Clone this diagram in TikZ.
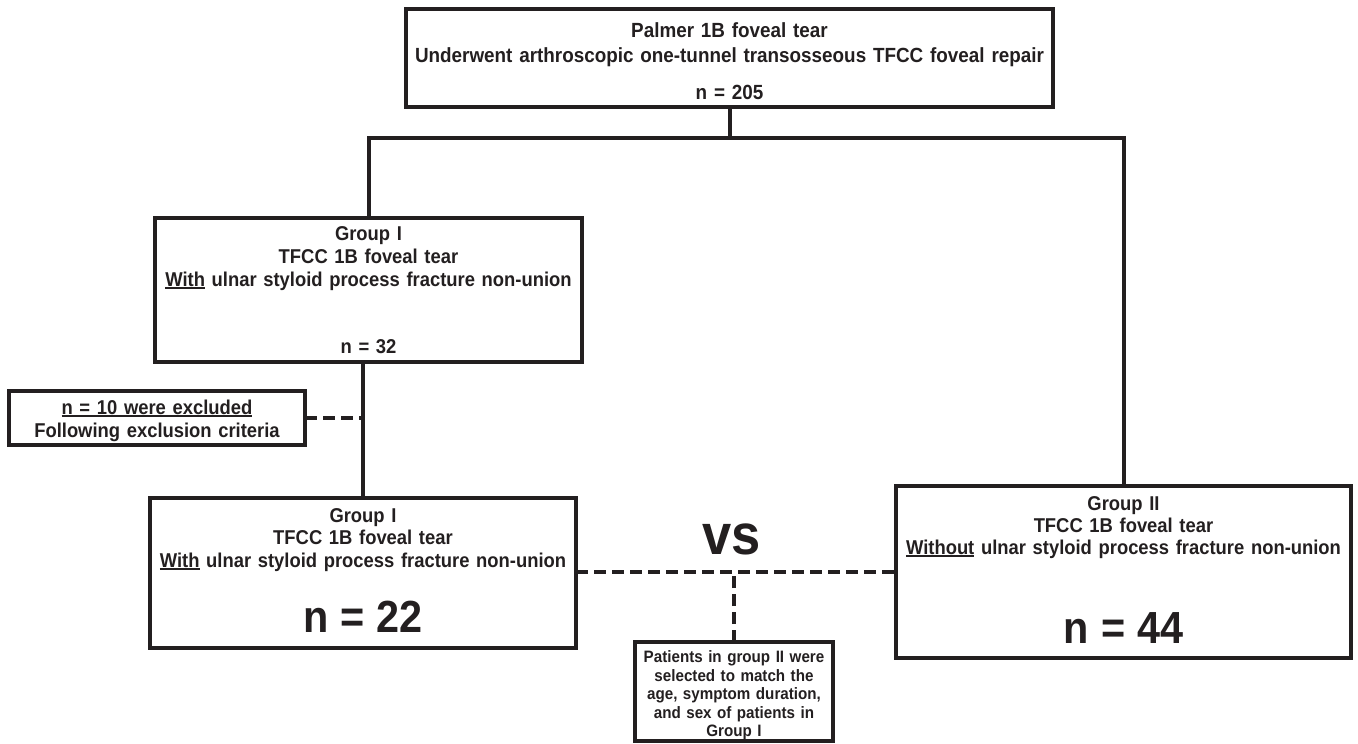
\documentclass[tikz,border=0pt]{standalone}
\usepackage{fontspec}
\newfontfamily\flowfont{Liberation Sans}[FakeStretch=0.92]
\definecolor{ink}{HTML}{231F20}

% underline with a firm rule
\newsavebox\ulbox
\newcommand{\undl}[1]{\leavevmode\sbox\ulbox{#1}\rlap{\rule[-2.6pt]{\wd\ulbox}{1.6pt}}\usebox\ulbox}
% room above the first line and below the last one
\newcommand{\topgap}[1]{\leavevmode\rule{0pt}{#1}}
\newcommand{\botgap}[1]{\rule[-#1]{0pt}{#1}}
% large count in a group box
\newcommand{\bigcount}[1]{{\fontsize{45}{45}\selectfont n\hspace{0.27em}=\hspace{0.27em}#1}}

\begin{document}
\begin{tikzpicture}[x=1pt,y=-1pt,line width=4pt,color=ink,
    dashline/.style={dash pattern=on 12pt off 6pt}]
\useasboundingbox (0,0) rectangle (1358,744);

\begin{scope}[every node/.style={draw,anchor=north,inner sep=0pt,outer sep=0pt,align=center,
      font=\flowfont\bfseries\fontsize{20}{23}\selectfont}]
    \node[text width=647pt,font=\flowfont\bfseries\fontsize{20.5}{25}\selectfont]
        (top) at (729.5,9) {\topgap{28.4pt}Palmer 1B foveal tear\\
        Underwent arthroscopic one-tunnel transosseous TFCC foveal repair\\[12pt]
        n = 205\botgap{7.6pt}};
    \node[text width=427pt] (g1a) at (368.5,218) {\topgap{22.2pt}Group I\\TFCC 1B foveal tear\\
        \undl{With} ulnar styloid process fracture non-union\\[44pt]
        n = 32\botgap{8.8pt}};
    \node[text width=296pt] (excl) at (157,391) {\topgap{23.2pt}\undl{n = 10 were excluded}\\
        Following exclusion criteria\botgap{7.8pt}};
    \node[text width=426pt,font=\flowfont\bfseries\fontsize{20}{22.5}\selectfont]
        (g1b) at (363,498) {\topgap{24.2pt}Group I\\TFCC 1B foveal tear\\
        \undl{With} ulnar styloid process fracture non-union\\[28.5pt]
        \bigcount{22}\botgap{16.2pt}};
    \node[text width=455pt,font=\flowfont\bfseries\fontsize{20}{22}\selectfont]
        (g2) at (1123.5,486) {\topgap{24.2pt}Group II\\TFCC 1B foveal tear\\
        \undl{Without} ulnar styloid process fracture non-union\\[53.3pt]
        \bigcount{44}\botgap{13.9pt}};
    \node[text width=198pt,font=\flowfont\bfseries\fontsize{16.5}{18.5}\selectfont]
        (match) at (734,642) {\topgap{20.9pt}Patients in group II were\\selected to match the\\
        age, symptom duration,\\and sex of patients in\\Group I\botgap{4.1pt}};
\end{scope}

\node[inner sep=0pt,font=\flowfont\bfseries\fontsize{57}{57}\selectfont] (vs) at (732,539) {vs};

\coordinate (split) at (729.5,138);
\draw (top.south) -- (split);
\draw (g1a.north) |- (split) -| (g2.north);
\draw (g1a.south -| g1b.north) -- (g1b.north);

\begin{scope}[dashline]
    \draw (excl.east) -- (excl.east -| g1b.north);
    \draw (g1b.east |- g2.west) -- (g2.west);
    \draw (match.north) -- (match.north |- g2.west);
\end{scope}
\end{tikzpicture}
\end{document}
